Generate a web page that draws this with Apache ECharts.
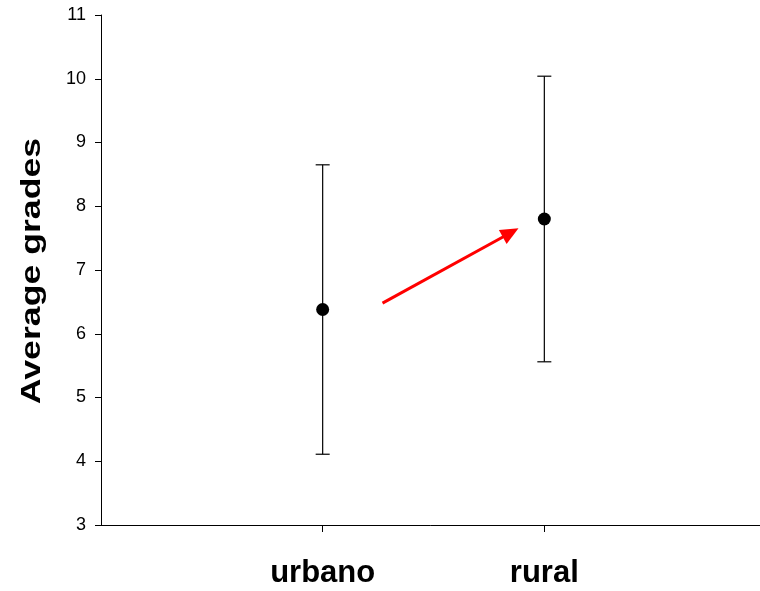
<!DOCTYPE html>
<html><head><meta charset="utf-8">
<script src="https://cdn.jsdelivr.net/npm/echarts@6.0.0/dist/echarts.min.js"></script>
<style>html,body{margin:0;padding:0;background:#fff}#c{width:760px;height:591px}</style>
</head><body><div id="c"></div>
<script>
const categories = ['urbano', 'rural'];
const categoryPos = [1, 2];
const means = [6.38, 7.80];
const errors = [2.27, 2.24];
const yTicks = [3, 4, 5, 6, 7, 8, 9, 10, 11];
const arrowStart = [1.27, 6.48];
const arrowEnd = [1.848, 7.585];
const yTitle = 'Average grades';

const pointData = categoryPos.map((x, i) => [x, means[i]]);
const errData = categoryPos.map((x, i) => [x, means[i] - errors[i], means[i] + errors[i]]);

const chart = echarts.init(document.getElementById('c'), null, {renderer: 'canvas'});
const FONT = '"Liberation Sans", Arial, sans-serif';
chart.setOption({
  animation: false,
  backgroundColor: '#fff',
  grid: {left: 101, top: 15, width: 665, bottom: 66, containLabel: false, outerBoundsMode: 'none'},
  xAxis: {
    type: 'value', min: 0, max: 3, interval: 1,
    axisLine: {show: true, lineStyle: {color: '#000', width: 1}},
    axisTick: {show: true, customValues: categoryPos, length: 7, lineStyle: {color: '#000'}},
    axisLabel: {
      show: true, customValues: categoryPos, margin: 33,
      fontFamily: FONT, fontWeight: 'bold', fontSize: 31, color: '#000',
      formatter: v => { const i = categoryPos.indexOf(v); return i >= 0 ? categories[i] : ''; }
    },
    splitLine: {show: false}
  },
  yAxis: {
    type: 'value', min: yTicks[0], max: yTicks[yTicks.length - 1], interval: 1,
    axisLine: {show: true, lineStyle: {color: '#000', width: 1}},
    axisTick: {show: true, length: 6, lineStyle: {color: '#000'}},
    axisLabel: {margin: 15, fontFamily: FONT, fontSize: 18, color: '#000'},
    splitLine: {show: false}
  },
  graphic: [{
    type: 'text', x: 32, y: 271, rotation: Math.PI / 2, scaleX: 1.23, scaleY: 0.95,
    style: {text: yTitle, font: 'bold 29px "Liberation Sans", Arial, sans-serif', fill: '#000', align: 'center', verticalAlign: 'middle'}
  }],
  series: [
    {
      type: 'custom',
      data: errData,
      z: 2,
      renderItem: function (params, api) {
        const x = api.value(0), lo = api.value(1), hi = api.value(2);
        const pHi = api.coord([x, hi]);
        const pLo = api.coord([x, lo]);
        const w = 7;
        const st = {stroke: '#000', lineWidth: 1.2};
        return {
          type: 'group', children: [
            {type: 'line', shape: {x1: pHi[0], y1: pHi[1], x2: pLo[0], y2: pLo[1]}, style: st},
            {type: 'line', shape: {x1: pHi[0] - w, y1: pHi[1], x2: pHi[0] + w, y2: pHi[1]}, style: st},
            {type: 'line', shape: {x1: pLo[0] - w, y1: pLo[1], x2: pLo[0] + w, y2: pLo[1]}, style: st}
          ]
        };
      }
    },
    {
      type: 'scatter',
      data: pointData,
      symbol: 'circle', symbolSize: 13,
      itemStyle: {color: '#000', opacity: 1},
      z: 3,
      markLine: {
        silent: true,
        symbol: ['none', 'triangle'],
        symbolSize: [16, 18],
        label: {show: false},
        lineStyle: {color: '#ff0000', width: 3, type: 'solid', opacity: 1},
        itemStyle: {color: '#ff0000'},
        emphasis: {disabled: true},
        data: [[{coord: arrowStart}, {coord: arrowEnd}]]
      }
    }
  ]
});
</script>
</body></html>
